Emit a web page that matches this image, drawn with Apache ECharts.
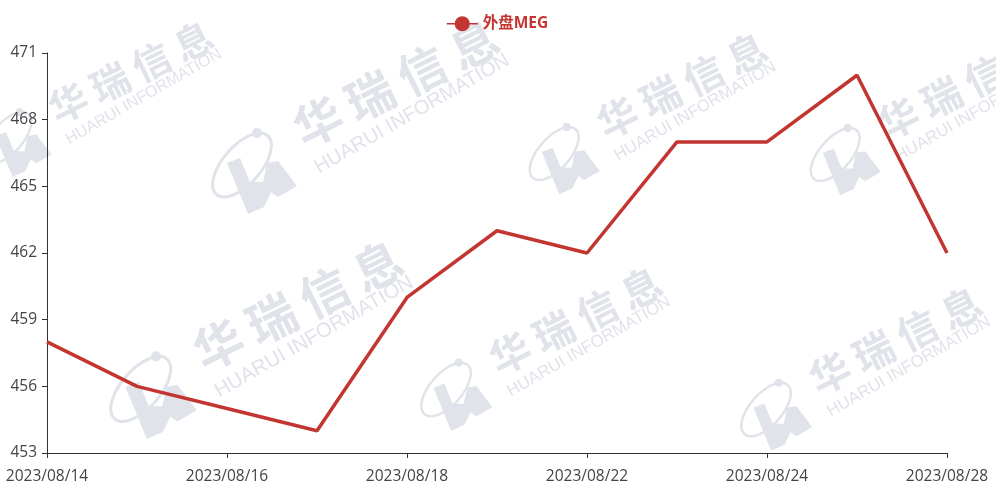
<!DOCTYPE html>
<html><head><meta charset="utf-8">
<style>html,body{margin:0;padding:0;background:#fff}#c{width:996px;height:490px}</style>
<script src="https://cdn.jsdelivr.net/npm/echarts@6/dist/echarts.min.js"></script>
</head><body><div id="c"></div>
<script>
const categories = ['2023/08/14','2023/08/15','2023/08/16','2023/08/17','2023/08/18','2023/08/21','2023/08/22','2023/08/23','2023/08/24','2023/08/25','2023/08/28'];
const values = [458,456,455,454,460,463,462,467,467,470,462];
const seriesName = '外盘MEG';
const font = '"Open Sans","Noto Sans CJK SC",sans-serif';
const wm = '#e1e3ea';
const marks = [[18,140,.8],[255,168,1],[565,156,.83],[846,157,.83],[154,392,1.02],[457,392,.84],[777,412,.84]];
function poly(points){return {type:'polygon',silent:true,shape:{points},style:{fill:wm}}}
function watermark([x,y,s]){
  const a=.46, chars=['华','瑞','信','息'];
  return {type:'group',x,y,scaleX:s,scaleY:s,silent:true,z:-10,children:[
    {type:'ellipse',silent:true,x:-13,y:-3,rotation:.85,shape:{cx:0,cy:0,rx:39,ry:19},style:{fill:'none',stroke:wm,lineWidth:3}},
    {type:'circle',silent:true,shape:{cx:2,cy:-35,r:5},style:{fill:wm}},
    poly([[-28,-5],[-15,-10],[-5,14],[8,14],[12,-5],[23,-7],[42,18],[23,29],[16,24],[9,39],[-7,46]]),
    ...chars.map((t,i)=>({type:'text',silent:true,
      x:141+(i-1.5)*58*Math.cos(a),y:-85-(i-1.5)*58*Math.sin(a),rotation:a,
      style:{text:t,font:'bold 48px "Noto Sans CJK SC"',fill:wm,align:'center',verticalAlign:'middle'}})),
    {type:'text',silent:true,x:157,y:-54,rotation:.52,style:{text:'HUARUI INFORMATION',font:'20px "Liberation Sans",sans-serif',fill:wm,align:'center',verticalAlign:'middle'}}
  ]};
}
const chart = echarts.init(document.getElementById('c'),null,{renderer:'canvas'});
chart.setOption({
  animation:false,
  graphic:{elements:marks.map(watermark)},
  legend:{top:11,left:441,itemWidth:31,itemHeight:19,itemGap:8,data:[seriesName],
    lineStyle:{width:1.5},
    textStyle:{color:'#c23531',fontWeight:'bold',fontSize:15.5,fontFamily:font}},
  grid:{left:47,right:49,top:53,bottom:37},
  xAxis:{type:'category',data:categories,boundaryGap:false,
    axisLine:{lineStyle:{color:'#333',width:1}},
    axisTick:{show:true,interval:1,length:5,lineStyle:{color:'#333'}},
    axisLabel:{interval:1,color:'#444',fontSize:15.5,margin:16,fontFamily:font,showMaxLabel:true,hideOverlap:false},
    splitLine:{show:false}},
  yAxis:{type:'value',min:453,max:471,interval:3,
    axisLine:{show:true,lineStyle:{color:'#333',width:1}},
    axisTick:{show:true,length:5,lineStyle:{color:'#333'}},
    axisLabel:{color:'#444',fontSize:15.5,margin:10,fontFamily:font},
    splitLine:{show:false}},
  series:[{name:seriesName,type:'line',data:values,showSymbol:false,symbol:'circle',symbolSize:14,
    lineStyle:{color:'#c23531',width:3.5},itemStyle:{color:'#c23531'}}]
});
</script></body></html>
